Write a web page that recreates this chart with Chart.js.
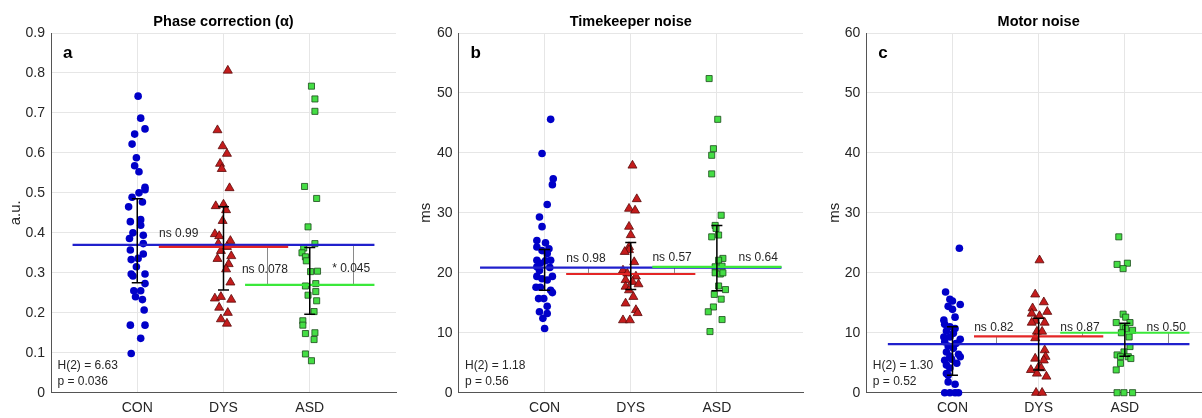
<!DOCTYPE html>
<html>
<head>
<meta charset="utf-8">
<script src="https://cdn.jsdelivr.net/npm/chart.js@4.4.1/dist/chart.umd.min.js"></script>
<style>
  html, body { margin: 0; padding: 0; background: #fff; overflow: hidden; }
  body { width: 1202px; height: 418px; position: relative; }
  canvas { position: absolute; top: 0; }
</style>
</head>
<body>
<canvas id="chartPhase"></canvas>
<canvas id="chartTimekeeper"></canvas>
<canvas id="chartMotor"></canvas>
<script>
// Grupos
const GROUPS = ["CON", "DYS", "ASD"];

// Cada punto: [desplazamiento x (jitter), valor]
// a - Phase correction
const phaseCon = [[0.01,0.742],[0.04,0.687],[0.09,0.66],[-0.03,0.647],[-0.06,0.622],[-0.01,0.588],[-0.03,0.568],[0.02,0.553],[0.09,0.514],[0.09,0.508],[-0.06,0.489],[0.02,0.5],[0.06,0.477],[-0.1,0.465],[-0.08,0.428],[0.04,0.433],[0.04,0.419],[-0.05,0.4],[0.07,0.394],[-0.09,0.386],[0.07,0.373],[-0.08,0.357],[0.07,0.347],[-0.07,0.333],[0.01,0.336],[-0.01,0.315],[-0.07,0.297],[-0.05,0.292],[0.09,0.297],[0.09,0.273],[-0.04,0.255],[0.04,0.255],[-0.02,0.24],[0.06,0.233],[0.08,0.207],[-0.08,0.169],[0.09,0.169],[0.04,0.136],[-0.07,0.098]];
const phaseDys = [[0.05,0.806],[-0.07,0.657],[-0.01,0.617],[0.04,0.598],[-0.04,0.573],[-0.02,0.56],[0.07,0.512],[-0.09,0.467],[0,0.471],[0.03,0.457],[-0.01,0.43],[-0.1,0.397],[-0.05,0.392],[0.08,0.38],[-0.06,0.373],[0.04,0.365],[-0.03,0.355],[-0.07,0.335],[0.09,0.342],[0.06,0.322],[0.03,0.309],[0.08,0.276],[-0.1,0.236],[-0.03,0.24],[0.09,0.233],[-0.05,0.213],[0.05,0.2],[-0.03,0.184],[0.04,0.173]];
const phaseAsd = [[0.02,0.767],[0.06,0.735],[0.06,0.704],[-0.06,0.516],[0.08,0.486],[-0.02,0.415],[0.06,0.373],[-0.07,0.362],[-0.09,0.35],[-0.05,0.34],[-0.04,0.33],[0.01,0.303],[0.09,0.304],[-0.05,0.267],[0.07,0.273],[-0.02,0.244],[0.07,0.253],[0.08,0.23],[0.05,0.203],[-0.08,0.18],[-0.08,0.169],[-0.05,0.148],[0.06,0.15],[0.05,0.133],[-0.05,0.097],[0.02,0.08]];
const phaseMeans = [0.37, 0.365, 0.27];
const phaseErr = [[0.275, 0.485], [0.257, 0.465], [0.196, 0.363]];
const phaseStats = ["ns 0.99", "ns 0.078", "* 0.045"];
const phaseKW = ["H(2) = 6.63", "p = 0.036"];

// b - Timekeeper noise
const timeCon = [[0.07,45.6],[-0.03,39.9],[0.1,35.7],[0.09,34.7],[0.03,31.4],[-0.06,29.3],[-0.03,27.7],[-0.09,25.4],[0.01,25],[0.05,24],[-0.09,24.3],[-0.03,23.7],[0.03,23.2],[-0.09,22.1],[0.01,22],[0.07,22.1],[-0.05,21.6],[0.06,20.9],[-0.09,21],[-0.06,20.4],[-0.09,19.4],[0.09,19.4],[-0.03,19],[0.03,18.8],[-0.1,17.6],[-0.05,17.6],[0.07,17.1],[0.09,16.7],[-0.07,15.7],[-0.01,15.7],[0.03,14.4],[-0.06,13.5],[0.03,13.2],[-0.02,12.4],[0,10.7]];
const timeDys = [[0.02,37.9],[0.07,32.3],[-0.02,30.7],[0.05,30.4],[-0.02,27.7],[0,26.3],[-0.02,24.3],[-0.02,23.8],[-0.07,23.5],[0.04,21.8],[-0.09,20.4],[-0.04,19.9],[0.06,19.4],[-0.06,18.8],[0.02,18.5],[0.09,18.1],[-0.06,17.7],[-0.02,17.1],[0.03,16],[-0.06,14.9],[0.06,13.8],[0.08,13.3],[-0.09,12.1],[-0.01,12.1]];
const timeAsd = [[-0.09,52.4],[0.01,45.6],[-0.04,40.7],[-0.06,39.6],[-0.06,36.5],[0.05,29.6],[-0.02,27.9],[-0.01,27.4],[-0.06,26],[0.02,26.3],[0.07,22.4],[0.02,22.1],[-0.02,21],[0.06,21.1],[-0.02,20],[0.04,19.8],[0.07,20],[0.02,17.8],[0.1,17.2],[-0.03,16.4],[0.05,15.6],[-0.04,14.3],[-0.1,13.5],[0.06,12.2],[-0.08,10.2]];
const timeMeans = [20.85, 19.8, 21.0];
const timeErr = [[17.1, 23.9], [17.2, 25.05], [17.0, 27.9]];
const timeStats = ["ns 0.98", "ns 0.57", "ns 0.64"];
const timeKW = ["H(2) = 1.18", "p = 0.56"];

// c - Motor noise
const motorCon = [[0.08,24.1],[-0.08,16.8],[-0.03,15.6],[0,15.3],[0.09,14.7],[-0.05,14.4],[0,13.9],[0.03,12.6],[-0.1,12.1],[-0.09,11.4],[-0.03,11],[0.03,10.7],[-0.07,10.3],[0.01,9.9],[-0.1,9.3],[-0.03,9.3],[0.09,8.9],[-0.09,8.5],[0.04,8.2],[-0.05,7.8],[0.01,7.4],[-0.07,6.8],[0.07,6.4],[-0.03,6.1],[0.09,6],[-0.09,5.4],[-0.01,5.6],[0.05,4.9],[-0.07,4.6],[-0.03,4.1],[-0.07,3.2],[-0.05,2.9],[-0.05,1.8],[0.03,1.4],[-0.09,0],[-0.03,0],[0.03,0],[0.07,0]];
const motorDys = [[0.01,22.1],[-0.04,16.4],[0.06,15.1],[-0.07,14.1],[0.1,13.5],[-0.08,13.2],[0.01,12.8],[-0.04,12],[0.07,11.7],[-0.08,11.7],[-0.02,10.2],[0.04,10.2],[-0.04,9.1],[0.07,7.1],[0.08,6],[-0.04,5.7],[0.06,5.4],[0,4.3],[-0.09,3.8],[0.03,4.1],[-0.02,3.2],[0.09,2.7],[-0.03,0],[0.04,0]];
const motorAsd = [[-0.07,26],[-0.09,21.4],[0.03,21.6],[-0.02,20.7],[-0.02,13.1],[0.01,12.6],[-0.1,11.7],[0.06,11.7],[-0.02,11],[0.01,10.7],[0.09,10.4],[-0.04,10],[0.05,9.3],[0.06,7.7],[-0.01,6.8],[-0.09,6.3],[0.04,6],[-0.05,6],[0.07,5.7],[-0.05,4.9],[-0.1,3.8],[-0.09,0],[-0.01,0],[0.09,0]];
const motorMeans = [8.1, 9.4, 10.0];
const motorErr = [[2.9, 11.0], [3.8, 12.4], [6.1, 11.6]];
const motorStats = ["ns 0.82", "ns 0.87", "ns 0.50"];
const motorKW = ["H(2) = 1.30", "p = 0.52"];

// Estilos
const FONT = '"Liberation Sans", Arial, Helvetica, sans-serif';
Chart.defaults.font.family = FONT;

const POINT_STYLES = [
  { pointStyle: "circle", pointRadius: 3.8, backgroundColor: "#0000c8", borderColor: "#0000c8", borderWidth: 0 },
  { pointStyle: "triangle", pointRadius: 5.2, backgroundColor: "#c41c1c", borderColor: "#5a0a0a", borderWidth: 0.8 },
  { pointStyle: "rect", pointRadius: 4.3, backgroundColor: "#44dd44", borderColor: "#1a4a1a", borderWidth: 0.8 },
];
const LINE_COLORS = ["#2020cc", "#e42626", "#3ae83a"];
// inicio y fin de las lineas de media
const MEAN_SPAN = [[0.25, 3.75], [1.25, 2.75], [2.25, 3.75]];
// [x del corchete, grupo i, grupo j]
const BRACKETS = [[1.5, 0, 1], [2.5, 1, 2], [3.5, 0, 2]];

const PANELS = [
  { id: "chartPhase", left: 0, areaLeft: 51, yTitlePad: 7, title: "Phase correction (α)", letter: "a", yTitle: "a.u.",
    yMax: 0.9, yStep: 0.1, series: [phaseCon, phaseDys, phaseAsd], means: phaseMeans, err: phaseErr,
    stats: phaseStats, statY: [0.398, 0.308, 0.311], kw: phaseKW },
  { id: "chartTimekeeper", left: 400, areaLeft: 458.5, yTitlePad: 17, title: "Timekeeper noise", letter: "b", yTitle: "ms",
    yMax: 60, yStep: 10, series: [timeCon, timeDys, timeAsd], means: timeMeans, err: timeErr,
    stats: timeStats, statY: [22.4, 22.5, 22.5], kw: timeKW },
  { id: "chartMotor", left: 802, areaLeft: 866.3, yTitlePad: 24, title: "Motor noise", letter: "c", yTitle: "ms",
    yMax: 60, yStep: 10, series: [motorCon, motorDys, motorAsd], means: motorMeans, err: motorErr,
    stats: motorStats, statY: [10.8, 10.9, 10.9], kw: motorKW },
];

const AREA_W = 344.5;
const AREA_TOP = 33;
const AREA_BOTTOM = 392.7;
const H = 418;

function makeOverlay(p) {
  return {
    id: "overlay",
    beforeDatasetsDraw(chart) {
      const { ctx } = chart;
      const x = chart.scales.x, y = chart.scales.y;
      ctx.save();
      ctx.strokeStyle = "#8a8a8a";
      ctx.lineWidth = 1;
      BRACKETS.forEach(([xv, i, j]) => {
        const px = Math.round(x.getPixelForValue(xv)) + 0.5;
        ctx.beginPath();
        ctx.moveTo(px, y.getPixelForValue(p.means[i]));
        ctx.lineTo(px, y.getPixelForValue(p.means[j]));
        ctx.stroke();
      });
      ctx.restore();
    },
    afterDatasetsDraw(chart) {
      const { ctx } = chart;
      const x = chart.scales.x, y = chart.scales.y;
      ctx.save();
      ctx.strokeStyle = "#000";
      ctx.lineWidth = 1.5;
      p.err.forEach(([lo, hi], i) => {
        const px = x.getPixelForValue(i + 1);
        const y0 = y.getPixelForValue(lo), y1 = y.getPixelForValue(hi);
        ctx.beginPath();
        ctx.moveTo(px, y0); ctx.lineTo(px, y1);
        ctx.moveTo(px - 5.5, y0); ctx.lineTo(px + 5.5, y0);
        ctx.moveTo(px - 5.5, y1); ctx.lineTo(px + 5.5, y1);
        ctx.stroke();
      });
      ctx.restore();
    },
    afterDraw(chart) {
      const { ctx, chartArea } = chart;
      const x = chart.scales.x, y = chart.scales.y;
      ctx.save();
      // titulo
      ctx.fillStyle = "#000";
      ctx.textAlign = "center";
      ctx.textBaseline = "middle";
      ctx.font = "bold 14.5px " + FONT;
      ctx.fillText(p.title, (chartArea.left + chartArea.right) / 2, 22);
      // letra del panel
      ctx.textAlign = "left";
      ctx.font = "bold 17px " + FONT;
      ctx.fillText(p.letter, chartArea.left + 12, chartArea.top + 20);
      // comparaciones
      ctx.fillStyle = "#262626";
      ctx.font = "12px " + FONT;
      ctx.textAlign = "center";
      p.stats.forEach((s, k) => {
        ctx.fillText(s, x.getPixelForValue(BRACKETS[k][0] - 0.02), y.getPixelForValue(p.statY[k]));
      });
      // Kruskal-Wallis
      ctx.textAlign = "left";
      ctx.fillText(p.kw[0], chartArea.left + 6.5, chartArea.bottom - 27.5);
      ctx.fillText(p.kw[1], chartArea.left + 6.5, chartArea.bottom - 11.5);
      ctx.restore();
    },
  };
}

function dibujarPanel(p) {
  const canvas = document.getElementById(p.id);
  const yW = p.areaLeft - p.left;
  const w = Math.ceil(yW + AREA_W + 8);
  canvas.width = w;
  canvas.height = H;
  canvas.style.left = p.left + "px";
  canvas.style.width = w + "px";
  canvas.style.height = H + "px";

  const datasets = [];
  // lineas de media (verde arriba, luego rojo, luego azul)
  [2, 1, 0].forEach((g) => {
    datasets.push({
      data: MEAN_SPAN[g].map((xv) => ({ x: xv, y: p.means[g] })),
      showLine: true,
      borderColor: LINE_COLORS[g],
      borderWidth: 2.2,
      pointRadius: 0,
      clip: false,
    });
  });
  p.series.forEach((pts, g) => {
    datasets.push({
      data: pts.map(([dx, v]) => ({ x: g + 1 + dx, y: v })),
      ...POINT_STYLES[g],
      pointHoverRadius: POINT_STYLES[g].pointRadius,
      showLine: false,
      clip: false,
    });
  });

  new Chart(canvas.getContext("2d"), {
    type: "scatter",
    data: { datasets },
    options: {
      responsive: false,
      animation: false,
      devicePixelRatio: 1,
      layout: { padding: { top: AREA_TOP, right: 8, left: 0, bottom: 0 } },
      plugins: { legend: { display: false }, tooltip: { enabled: false } },
      scales: {
        x: {
          type: "linear",
          min: 0,
          max: 4,
          afterBuildTicks: (s) => { s.ticks = [1, 2, 3].map((v) => ({ value: v })); },
          afterFit: (s) => { s.height = H - AREA_BOTTOM; },
          ticks: {
            color: "#262626",
            font: { size: 14 },
            padding: 7,
            maxRotation: 0,
            callback: (v) => GROUPS[v - 1],
          },
          grid: { color: "#e6e6e6", drawTicks: false },
          border: { color: "#555", width: 1 },
        },
        y: {
          min: 0,
          max: p.yMax,
          afterFit: (s) => { s.width = yW; },
          ticks: { stepSize: p.yStep, color: "#262626", font: { size: 14 }, padding: 6 },
          grid: { color: "#e6e6e6", drawTicks: false },
          border: { color: "#555", width: 1 },
          title: {
            display: true,
            text: p.yTitle,
            color: "#262626",
            font: { size: 15 },
            padding: { top: p.yTitlePad, bottom: 0 },
          },
        },
      },
    },
    plugins: [makeOverlay(p)],
  });
}

document.addEventListener("DOMContentLoaded", () => {
  PANELS.forEach(dibujarPanel);
});
</script>
</body>
</html>
